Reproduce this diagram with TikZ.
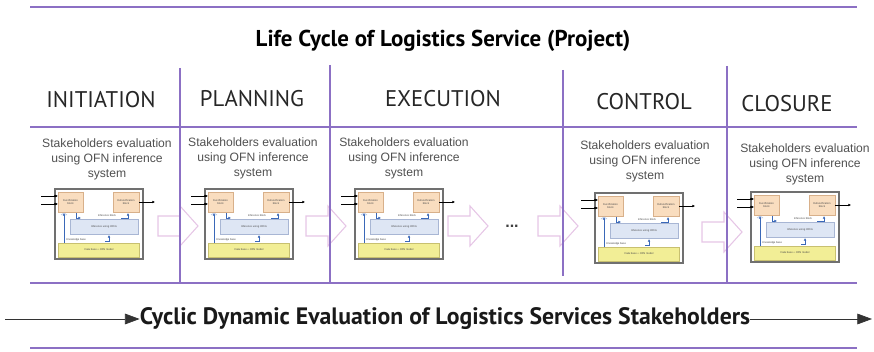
\documentclass[tikz,border=0pt]{standalone}
\usepackage{fontspec}
\setmainfont{PT Sans}
\newfontfamily\arialish{Liberation Sans}
\usetikzlibrary{arrows.meta}

\definecolor{lilac}{HTML}{8C70C4}
\definecolor{arrowpink}{HTML}{E6C6E6}
\definecolor{captiongray}{HTML}{505050}
\definecolor{boxgray}{HTML}{707070}
\definecolor{peach}{HTML}{F9DDBF}
\definecolor{peachline}{HTML}{D8B08A}
\definecolor{paleblue}{HTML}{DEE6F4}
\definecolor{palebluel}{HTML}{A8B6D4}
\definecolor{paleyellow}{HTML}{F2EE96}
\definecolor{yellowline}{HTML}{C8C070}
\definecolor{kbblue}{HTML}{3A68B8}

\tikzset{
  hrule/.style={lilac, line width=1.4pt},
  vrule/.style={lilac, line width=1.1pt},
  titletxt/.style={font=\fontsize{17.2}{19}\selectfont\bfseries, text=black, inner sep=0pt},
  phasetxt/.style={font=\fontsize{17}{19}\selectfont, text=black!85, inner sep=0pt},
  graytxt/.style={font=\arialish\fontsize{9.1}{11.2}\selectfont, text=captiongray, align=center, inner sep=0pt},
  cyctxt/.style={font=\fontsize{17.8}{19}\selectfont\bfseries, text=black!90, inner sep=0pt},
  tinytxt/.style={font=\arialish\fontsize{2}{2.4}\selectfont, text=black!70, align=center, inner sep=0pt},
  blockarrow/.style={draw=arrowpink, line width=0.8pt, fill=white},
  bluearr/.style={draw=kbblue, line width=0.7pt, -{Latex[length=2pt,width=2pt]}},
  sigarr/.style={draw=black, line width=0.45pt, -{Latex[length=2pt,width=2pt]}},
  axisarr/.style={draw=black!80, line width=0.5pt, -{Triangle[length=11pt,width=8pt]}},
  % small fuzzy inference system sketch
  ofnsys/.pic={
    \draw[boxgray, line width=0.9pt, fill=white] (0,0) rectangle (88,70);
    \draw[peachline, line width=0.4pt, fill=peach] (3,3) rectangle (28,23);
    \draw[peachline, line width=0.4pt, fill=peach] (58,3) rectangle (84,23);
    \draw[palebluel, line width=0.4pt, fill=paleblue] (15,30) rectangle (83,45);
    \draw[yellowline, line width=0.4pt, fill=paleyellow] (3,54) rectangle (84,68);
    \node[tinytxt] (-fz) at (15.5,13) {Fuzzification\\block};
    \node[tinytxt] (-dfz) at (71,13) {Defuzzification\\block};
    \node[tinytxt] (-ib) at (52,27) {Inference block};
    \node[tinytxt] (-inf) at (49,37.5) {Inference using OFNs};
    \node[tinytxt, anchor=west] (-kb) at (11,51) {Knowledge base};
    \node[tinytxt] (-db) at (44,61) {Data base + OFN model};
    \coordinate (-in1) at (-14,7);
    \coordinate (-in2) at (-14,15);
    \coordinate (-fi1) at (3,7);
    \coordinate (-fi2) at (3,15);
    \coordinate (-do) at (84,13);
    \coordinate (-out) at (100,13);
    \draw[sigarr] (-in1) -- (-fi1);
    \draw[sigarr] (-in2) -- (-fi2);
    \fill[black] (0,7) circle (1.1);
    \fill[black] (0,15) circle (1.1);
    \draw[sigarr] (-do) -- (-out);
    % knowledge base links
    \draw[bluearr] (9,54) -- (9,24);
    \draw[bluearr] (21,24) -- (21,29) -- (26,29);
    \draw[bluearr] (66,29) -- (73,29) -- (73,24);
    \draw[bluearr] (50,52) -- (54,52) -- (54,46);
    \draw[kbblue!40, line width=0.5pt] (6,26) -- (9,24) -- (12,26);
  },
  % hollow block arrow between phases
  phasearrow/.pic={
    \draw[blockarrow] (0,-10) -- (22,-10) -- (22,-20) -- (40,0) -- (22,20) -- (22,10) -- (0,10) -- cycle;
  }
}

\begin{document}
\begin{tikzpicture}[x=0.75pt,y=-0.75pt]
\useasboundingbox (0,0) rectangle (874,352);

% hollow arrows between the phases
\pic at (158,226) {phasearrow};
\pic at (306,226) {phasearrow};
\pic at (448,226) {phasearrow};
\pic at (538,226) {phasearrow};
\pic at (702,232) {phasearrow};
\node[font=\arialish\fontsize{12}{12}\selectfont\bfseries, text=black!75] (dots) at (512,226) {...};

% rules
\draw[hrule] (30,7) -- (857,7);
\draw[hrule] (30,127) -- (857,127);
\draw[hrule] (30,283) -- (857,283);
\draw[hrule] (30,348) -- (857,348);
\draw[vrule] (180,68) -- (180,283);
\draw[vrule] (330,65) -- (330,283);
\draw[vrule] (563,70) -- (563,276);
\draw[vrule] (727,66) -- (727,283);

% title
\node[titletxt] (title) at (443,41) {Life Cycle of Logistics Service (Project)};

% phase headings
\node[phasetxt] (initiation) at (101,100) {INITIATION};
\node[phasetxt] (planning) at (252,99) {PLANNING};
\node[phasetxt] (execution) at (443,99) {EXECUTION};
\node[phasetxt] (control) at (644,102) {CONTROL};
\node[phasetxt] (closure) at (787,104) {CLOSURE};

% captions
\node[graytxt] (cap1) at (107,159) {Stakeholders evaluation\\using OFN inference\\system};
\node[graytxt] (cap2) at (253,158) {Stakeholders evaluation\\using OFN inference\\system};
\node[graytxt] (cap3) at (404,158) {Stakeholders evaluation\\using OFN inference\\system};
\node[graytxt] (cap4) at (645,161) {Stakeholders evaluation\\using OFN inference\\system};
\node[graytxt] (cap5) at (805,164) {Stakeholders evaluation\\using OFN inference\\system};

% inference system sketches
\pic (s1) at (55,189) {ofnsys};
\pic (s2) at (205,189) {ofnsys};
\pic (s3) at (355,189) {ofnsys};
\pic (s4) at (595,193) {ofnsys};
\pic (s5) at (751,192) {ofnsys};

% cyclic evaluation axis
\node[cyctxt] (cyc) at (445,319) {Cyclic Dynamic Evaluation of Logistics Services Stakeholders};
\coordinate (axisstart) at (5,319);
\coordinate (axisend) at (872,319);
\draw[axisarr] (axisstart) -- (cyc.west);
\draw[axisarr] (cyc.east) -- (axisend);
\end{tikzpicture}
\end{document}
